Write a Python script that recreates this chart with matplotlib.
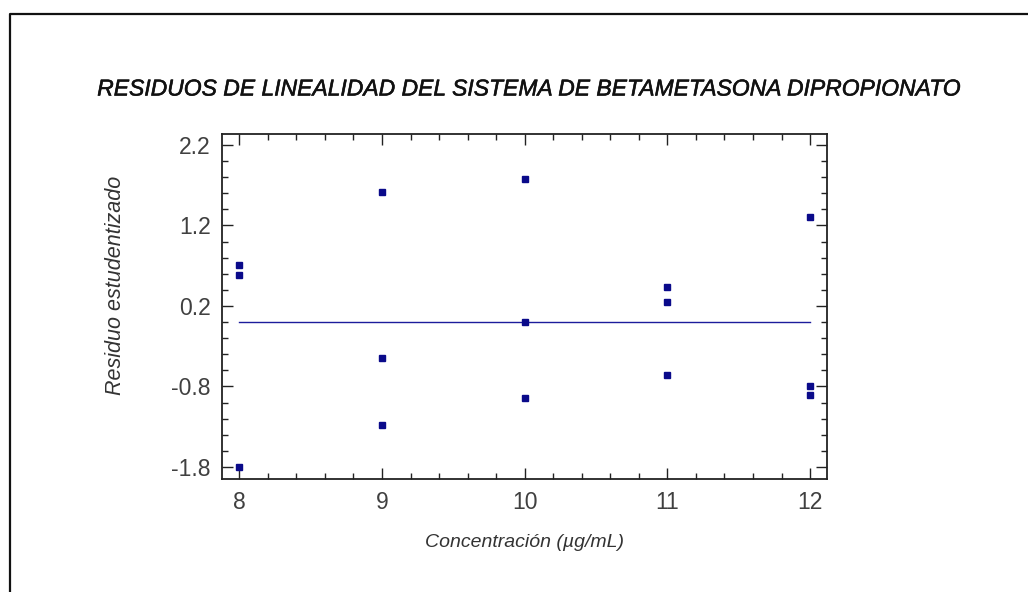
import matplotlib
matplotlib.use("Agg")
import matplotlib.pyplot as plt
import matplotlib.patheffects as pe
from matplotlib.lines import Line2D
from matplotlib.ticker import MultipleLocator

# -- data -- #
concentration = [8, 8, 8, 9, 9, 9, 10, 10, 10, 11, 11, 11, 12, 12, 12]
residuals = [0.71, 0.59, -1.80, 1.61, -0.45, -1.28, 1.78, 0.00, -0.94,
             0.43, 0.25, -0.66, 1.31, -0.79, -0.91]
fit_x = [8, 12]
fit_y = [0.0, 0.0]
x_ticks = [8, 9, 10, 11, 12]
y_ticks = [-1.8, -0.8, 0.2, 1.2, 2.2]

title = "RESIDUOS DE LINEALIDAD DEL SISTEMA DE BETAMETASONA DIPROPIONATO"
x_label = "Concentración (µg/mL)"
y_label = "Residuo estudentizado"

plt.rcParams['font.family'] = ['Liberation Sans', 'DejaVu Sans']

fig = plt.figure(figsize=(10.28, 5.92), dpi=100)
ax = fig.add_axes([0.216, 0.191, 0.5885, 0.5827])

# outer frame: only left and top edges are visible
fx, fy = 9.5 / 1028, 1 - 13.5 / 592
fig.add_artist(Line2D([fx, fx, 1.0], [0.0, fy, fy], transform=fig.transFigure,
                      color='#111111', linewidth=1.6))

ax.plot(fit_x, fit_y, color='#1c1c9c', linewidth=1.0)
ax.plot(concentration, residuals, linestyle='none', marker='s',
        markersize=3.8, color='#0a0a8a')

ax.set_xlim(7.879, 12.119)
ax.set_ylim(-1.949, 2.337)
ax.set_xticks(x_ticks)
ax.set_yticks(y_ticks)
ax.set_yticklabels([f"{v:.1f}" for v in y_ticks])
ax.xaxis.set_minor_locator(MultipleLocator(0.2))
ax.yaxis.set_minor_locator(MultipleLocator(0.2))
ax.tick_params(which='both', direction='in', top=True, right=True,
               color='#222222', width=1.0)
ax.tick_params(which='major', length=8, labelsize=16.5, labelcolor='#404040')
ax.tick_params(axis='y', which='major', pad=8)
ax.tick_params(axis='x', which='major', pad=9)
ax.tick_params(which='minor', length=4.5)
for s in ax.spines.values():
    s.set_color('#222222')
    s.set_linewidth(1.3)

t = fig.text(0.5135, 1 - 89 / 592, title, ha='center', va='center',
             fontsize=16.5, style='italic', color='#111111')
t.set_path_effects([pe.withStroke(linewidth=0.4, foreground='#111111')])
ax.set_xlabel(x_label, fontsize=14, style='italic', color='#333333', labelpad=14)
ax.set_ylabel(y_label, fontsize=15.5, style='italic', color='#333333')
ax.yaxis.set_label_coords(-0.159, 0.562)

fig.savefig("out.png", dpi=100)
